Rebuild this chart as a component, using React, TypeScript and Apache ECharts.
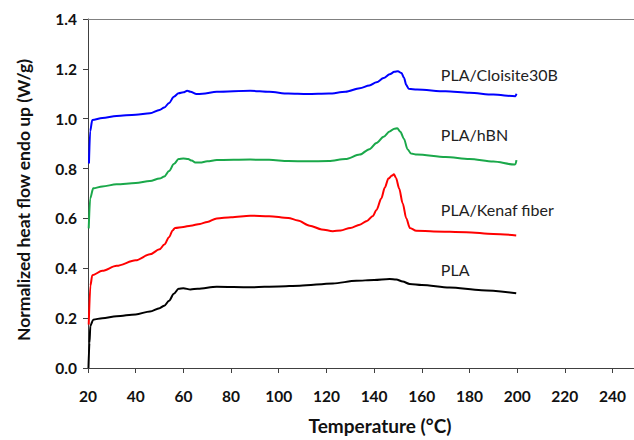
import React, { useEffect, useRef } from "react";
import * as echarts from "echarts";

// Temperature (°C), normalized heat flow (W/g) pairs
const cloisiteData: [number, number][] = [
  [20.4, 0.82], [20.9, 0.95], [21.8, 0.995], [26, 1.003], [32, 1.011], [40, 1.016],
  [46, 1.022], [50, 1.035], [52, 1.045], [54, 1.063], [56, 1.088], [58, 1.102],
  [60, 1.106], [61.6, 1.112], [63, 1.108], [65.5, 1.099], [68, 1.1], [74, 1.108],
  [88, 1.112], [96, 1.108], [104, 1.101], [112, 1.099], [121, 1.101], [128, 1.108],
  [134, 1.122], [138, 1.133], [141, 1.146], [144, 1.163], [146.5, 1.178], [148.5, 1.188],
  [150, 1.19], [151.5, 1.183], [152.5, 1.165], [153.5, 1.135], [154.5, 1.12], [158, 1.117],
  [170, 1.11], [180, 1.104], [190, 1.097], [199.3, 1.09], [199.7, 1.1],
];

const hbnData: [number, number][] = [
  [20.3, 0.56], [20.9, 0.68], [22.2, 0.721], [26, 0.728], [32, 0.737], [40, 0.742],
  [46, 0.75], [50, 0.76], [52, 0.768], [54, 0.79], [56, 0.818], [58, 0.838],
  [60, 0.84], [62, 0.838], [63.5, 0.832], [65, 0.824], [67, 0.824], [70, 0.829],
  [74, 0.834], [88, 0.836], [96, 0.835], [104, 0.83], [112, 0.829], [121, 0.83],
  [128, 0.838], [134, 0.856], [138, 0.878], [141, 0.903], [144, 0.928], [146.5, 0.949],
  [148.5, 0.96], [149.7, 0.962], [151, 0.948], [152.5, 0.92], [154, 0.878], [155.5, 0.86],
  [158, 0.856], [170, 0.846], [180, 0.838], [190, 0.828], [198.8, 0.816], [199.3, 0.818],
  [199.7, 0.834],
];

const kenafData: [number, number][] = [
  [20.3, 0.174], [21, 0.33], [21.8, 0.372], [26, 0.39], [32, 0.41], [40, 0.432],
  [46, 0.456], [50, 0.476], [52, 0.495], [54, 0.525], [55.5, 0.552], [56.5, 0.562],
  [60, 0.566], [63, 0.571], [67, 0.578], [70, 0.586], [74, 0.6], [80, 0.605],
  [88, 0.611], [96, 0.609], [104, 0.602], [108, 0.592], [113, 0.571], [118, 0.556],
  [122.7, 0.549], [126, 0.552], [130, 0.562], [134, 0.575], [137, 0.59], [139.5, 0.61],
  [141, 0.634], [143, 0.68], [144.5, 0.724], [146, 0.76], [147.5, 0.772], [148.3, 0.777],
  [149.2, 0.762], [150.5, 0.72], [152, 0.66], [153.5, 0.6], [155, 0.562], [157.7, 0.551],
  [165, 0.548], [178.6, 0.545], [190, 0.538], [199.6, 0.532],
];

const plaData: [number, number][] = [
  [20.2, 0.0], [20.6, 0.1], [21, 0.17], [22.2, 0.194], [26, 0.2], [32, 0.208],
  [40, 0.215], [46, 0.227], [50, 0.24], [52, 0.25], [54, 0.27], [56, 0.298],
  [58, 0.318], [60, 0.32], [63, 0.315], [66, 0.318], [74, 0.326], [88, 0.324],
  [100, 0.327], [108.8, 0.33], [122.7, 0.339], [132.5, 0.35], [140, 0.353], [146.5, 0.357],
  [149.3, 0.355], [152, 0.347], [154.9, 0.337], [160, 0.333], [171.6, 0.323], [185, 0.312],
  [199.6, 0.3],
];

const seriesNames = ["PLA/Cloisite30B", "PLA/hBN", "PLA/Kenaf fiber", "PLA"];
const seriesColors = ["#0000ff", "#1aa84a", "#ff0000", "#000000"];
// label anchor points (temperature, heat flow)
const labelAnchors: [number, number][] = [
  [168, 1.177],
  [168, 0.938],
  [168, 0.636],
  [168, 0.394],
];

const yTicks = [0, 0.2, 0.4, 0.6, 0.8, 1.0, 1.2, 1.4];

export default function App() {
  const ref = useRef<HTMLDivElement>(null);
  useEffect(() => {
    if (!ref.current) return;
    const chart = echarts.init(ref.current, null, { renderer: "svg" });
    const datasets = [cloisiteData, hbnData, kenafData, plaData];
    const boldFont = "Lato, 'Open Sans', sans-serif";
    chart.setOption({
      animation: false,
      backgroundColor: "#ffffff",
      grid: { left: 88, top: 19, bottom: 68, right: 0, containLabel: false },
      xAxis: [
        {
          type: "value",
          min: 20,
          max: 249,
          interval: 20,
          position: "bottom",
          name: "Temperature (°C)",
          nameLocation: "middle",
          nameGap: 48,
          nameTextStyle: {
            fontFamily: boldFont,
            fontWeight: "bold",
            fontSize: 19,
            color: "#111",
            padding: [0, 0, 0, 38],
          },
          axisLine: { show: true, onZero: false, lineStyle: { color: "#404040", width: 1 } },
          axisTick: { show: true, inside: false, length: 5, lineStyle: { color: "#404040" } },
          axisLabel: {
            margin: 20,
            showMaxLabel: false,
            fontFamily: boldFont,
            fontWeight: "bold",
            fontSize: 15.5,
            color: "#111",
          },
          splitLine: { show: false },
        },
        {
          type: "value",
          min: 20,
          max: 249,
          position: "top",
          axisLine: { show: true, onZero: false, lineStyle: { color: "#808080", width: 1 } },
          axisTick: { show: false },
          axisLabel: { show: false },
          splitLine: { show: false },
        },
      ],
      yAxis: {
        type: "value",
        min: yTicks[0],
        max: yTicks[yTicks.length - 1],
        interval: 0.2,
        name: "Normalized heat flow endo up (W/g)",
        nameLocation: "middle",
        nameGap: 56,
        nameRotate: 90,
        nameTextStyle: {
          fontFamily: boldFont,
          fontWeight: "bold",
          fontSize: 17.5,
          color: "#111",
          padding: [0, 13, 0, 0],
        },
        axisLine: { show: true, onZero: false, lineStyle: { color: "#404040", width: 1 } },
        axisTick: { show: true, inside: false, length: 5, lineStyle: { color: "#404040" } },
        axisLabel: {
          margin: 11,
          fontFamily: boldFont,
          fontWeight: "bold",
          fontSize: 15.5,
          color: "#111",
          formatter: (v: number) => v.toFixed(1),
        },
        splitLine: { show: false },
      },
      series: datasets.map((d, i) => ({
        name: seriesNames[i],
        type: "line",
        data: d,
        showSymbol: false,
        smooth: 0.3,
        smoothMonotone: "x",
        lineStyle: { color: seriesColors[i], width: 2 },
        itemStyle: { color: seriesColors[i] },
        z: 4 - i,
        markPoint: {
          symbol: "circle",
          symbolSize: 0,
          silent: true,
          label: {
            show: true,
            position: "right",
            distance: 0,
            formatter: seriesNames[i],
            fontFamily: "Lato, 'Open Sans', sans-serif",
            fontSize: 16,
            color: "#222",
          },
          data: [{ coord: labelAnchors[i] }],
        },
      })),
    });
    return () => chart.dispose();
  }, []);
  return (
    <div
      ref={ref}
      style={{ position: "fixed", left: 0, top: 0, width: 634, height: 440 }}
    />
  );
}
